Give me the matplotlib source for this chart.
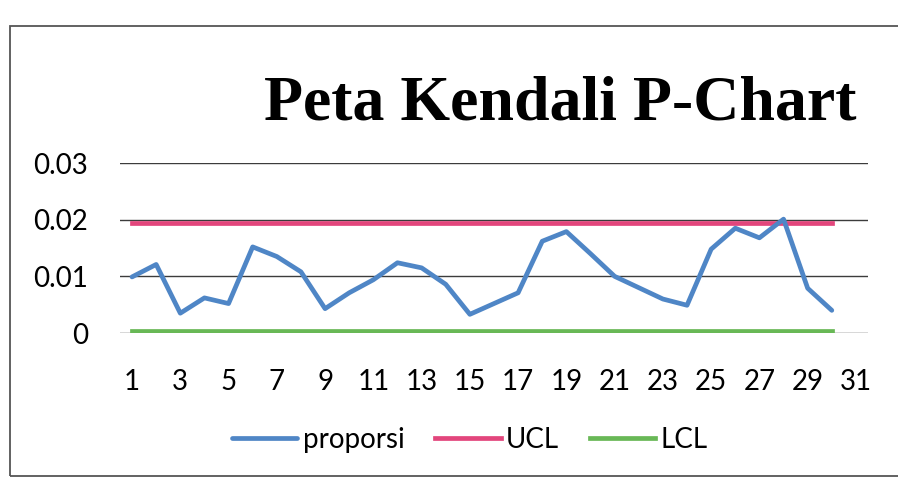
import numpy as np
import matplotlib.pyplot as plt
from matplotlib.patches import Rectangle

# sample number (1..30) and proportion defective per sample
SAMPLE = np.arange(1, 31)
PROPORSI = np.array([
    0.0099, 0.0121, 0.0035, 0.0062, 0.0052, 0.0152, 0.0135, 0.0108, 0.0043, 0.0071,
    0.0094, 0.0124, 0.0115, 0.0086, 0.0033, 0.0052, 0.0071, 0.0162, 0.0179, 0.0140,
    0.0100, 0.0080, 0.0060, 0.0049, 0.0148, 0.0185, 0.0168, 0.0201, 0.0079, 0.0040,
])
UCL_VALUE = 0.0194
LCL_VALUE = 0.0004
Y_TICKS = [0, 0.01, 0.02, 0.03]
Y_LABELS = ["0", "0.01", "0.02", "0.03"]
X_TICKS = list(range(1, 32, 2))

BLUE = "#4f86c6"
PINK = "#e2467c"
GREEN = "#68b856"


def graph_data(ax):
    """Draws the proportion series and the control limits."""
    ucl = np.full(len(SAMPLE), UCL_VALUE)
    lcl = np.full(len(SAMPLE), LCL_VALUE)
    ax.plot(SAMPLE, PROPORSI, color=BLUE, lw=3.4, label="proporsi",
            solid_capstyle="round", solid_joinstyle="round", zorder=4)
    ax.plot(SAMPLE, ucl, color=PINK, lw=3.4, label="UCL", zorder=3)
    ax.plot(SAMPLE, lcl, color=GREEN, lw=3.4, label="LCL", zorder=3)


def style_axes(ax):
    """Excel-like axes: horizontal gridlines only, no spines."""
    ax.set_xlim(0.5, 31.5)
    ax.set_ylim(0, 0.03)
    ax.set_yticks(Y_TICKS)
    ax.set_yticklabels(Y_LABELS)
    ax.set_xticks(X_TICKS)
    ax.grid(axis="y", color="#3c3c3c", lw=1.0)
    ax.set_axisbelow(True)
    for side in ax.spines.values():
        side.set_visible(False)
    ax.tick_params(axis="y", length=0, pad=23, labelsize=20)
    ax.tick_params(axis="x", length=0, pad=26, labelsize=20)


def main():
    plt.rcParams["font.family"] = ["Lato", "DejaVu Sans"]
    fig = plt.figure(figsize=(8.98, 4.93), dpi=100)
    fig.patch.set_facecolor("white")

    # outer chart border
    fig.patches.append(Rectangle((0.011, 0.035), 1.0, 0.912, transform=fig.transFigure,
                                 fill=False, edgecolor="#555555", lw=1.3))

    ax = fig.add_axes([0.1336, 0.3245, 0.833, 0.3448])
    graph_data(ax)
    style_axes(ax)

    fig.text(560 / 898, 1 - 119 / 493, "Peta Kendali P-Chart", ha="center",
             va="baseline", fontsize=46, fontweight="bold",
             family=["Liberation Serif", "DejaVu Serif"])

    fig.legend(loc="center", bbox_to_anchor=(470 / 898, 1 - 440 / 493), ncol=3,
               frameon=False, fontsize=20, handlelength=2.35, handletextpad=0.2,
               columnspacing=1.1)

    fig.savefig("out.png", dpi=100)


if __name__ == "__main__":
    main()
